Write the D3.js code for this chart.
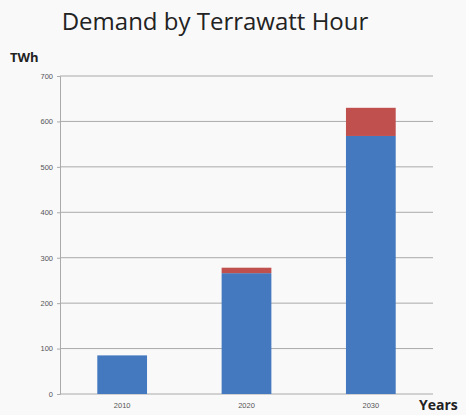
<!DOCTYPE html>
<html>
<head>
<meta charset="utf-8">
<script src="https://cdn.jsdelivr.net/npm/d3@7"></script>
<style>
  html, body { margin: 0; padding: 0; background: #f9f9f9; }
  #chart { width: 466px; height: 415px; }
</style>
</head>
<body>
<div id="chart"></div>
<script>
// chart data
const years = ['2010', '2020', '2030'];
const baseDemand = [85, 266, 568];
const addedDemand = [0, 12, 62];
const yTicks = [0, 100, 200, 300, 400, 500, 600, 700];

const width = 466, height = 415;
const margin = { top: 76, right: 33, bottom: 21, left: 60 };

const svg = d3.select('#chart')
  .append('svg')
  .attr('width', width)
  .attr('height', height)
  .style('font-family', '"Open Sans", "DejaVu Sans", sans-serif');

const x = d3.scaleBand()
  .domain(years)
  .range([margin.left, width - margin.right])
  .paddingInner(0.6)
  .paddingOuter(0.3);

const y = d3.scaleLinear()
  .domain([0, 700])
  .range([height - margin.bottom, margin.top]);

// gridlines + y axis
const yAxis = svg.append('g')
  .attr('transform', `translate(${margin.left},0)`)
  .call(d3.axisLeft(y).tickValues(yTicks).tickSize(3).tickPadding(4));
yAxis.select('.domain').attr('stroke', '#aaa');
yAxis.selectAll('.tick line').attr('stroke', '#aaa');
yAxis.selectAll('.tick text')
  .attr('fill', '#555')
  .style('font-size', '7.5px');

svg.append('g')
  .selectAll('line')
  .data(yTicks)
  .enter().append('line')
  .attr('x1', margin.left)
  .attr('x2', width - margin.right)
  .attr('y1', d => y(d))
  .attr('y2', d => y(d))
  .attr('stroke', '#aaa')
  .attr('stroke-width', 1);

// stacked bars
const stacked = years.map((yr, i) => ({ year: yr, base: baseDemand[i], added: addedDemand[i] }));

svg.append('g')
  .selectAll('rect')
  .data(stacked)
  .enter().append('rect')
  .attr('x', d => x(d.year))
  .attr('y', d => y(d.base))
  .attr('width', x.bandwidth())
  .attr('height', d => y(0) - y(d.base))
  .attr('fill', '#4479c0');

svg.append('g')
  .selectAll('rect')
  .data(stacked.filter(d => d.added > 0))
  .enter().append('rect')
  .attr('x', d => x(d.year))
  .attr('y', d => y(d.base + d.added))
  .attr('width', x.bandwidth())
  .attr('height', d => y(d.base) - y(d.base + d.added))
  .attr('fill', '#c0504d');

// x axis labels
const xAxis = svg.append('g')
  .attr('transform', `translate(0,${height - margin.bottom})`)
  .call(d3.axisBottom(x).tickSize(0).tickPadding(9));
xAxis.select('.domain').remove();
xAxis.selectAll('.tick text')
  .attr('fill', '#555')
  .style('font-size', '7.5px');

// titles
svg.append('text')
  .attr('x', 215)
  .attr('y', 30)
  .attr('text-anchor', 'middle')
  .attr('fill', '#222')
  .style('font-size', '24px')
  .text('Demand by Terrawatt Hour');

svg.append('text')
  .attr('x', 10)
  .attr('y', 62)
  .attr('fill', '#222')
  .style('font-size', '13px')
  .style('font-weight', 'bold')
  .text('TWh');

svg.append('text')
  .attr('x', 419)
  .attr('y', 410)
  .attr('fill', '#222')
  .style('font-size', '14px')
  .style('font-weight', 'bold')
  .text('Years');
</script>
</body>
</html>
